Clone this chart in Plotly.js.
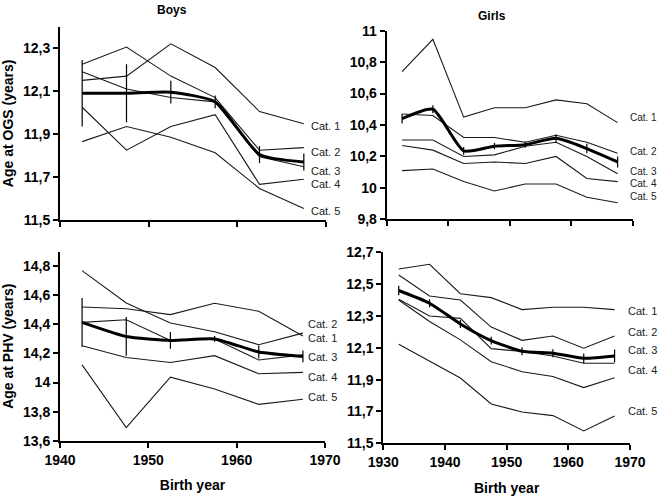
<!DOCTYPE html>
<html>
<head>
<meta charset="utf-8">
<script src="https://cdn.plot.ly/plotly-3.0.1.min.js"></script>
<style>
  html, body { margin: 0; padding: 0; background: #fff; }
  #plot { width: 661px; height: 500px; }
</style>
</head>
<body>
<div id="plot"></div>
<script>
// birth cohorts (mid-points)
const boysYears = [1942.5, 1947.5, 1952.5, 1957.5, 1962.5, 1967.5];
const girlsYears = [1932.5, 1937.5, 1942.5, 1947.5, 1952.5, 1957.5, 1962.5, 1967.5];
const catNames = ['Cat. 1', 'Cat. 2', 'Cat. 3', 'Cat. 4', 'Cat. 5'];

// Boys - age at OGS
const boysOgsCats = [
    [12.15, 12.17, 12.32, 12.21, 12.005, 11.948],
    [12.225, 12.305, 12.17, 12.07, 11.825, 11.837],
    [12.19, 12.11, 12.07, 12.05, 11.794, 11.748],
    [12.025, 11.825, 11.935, 11.99, 11.666, 11.69],
    [11.865, 11.935, 11.885, 11.813, 11.647, 11.554]
];
const boysOgsMean = [12.09, 12.09, 12.095, 12.05, 11.805, 11.77];
const boysOgsErr = [0.155, 0.135, 0.053, 0.03, 0.04, 0.04];

// Girls - age at OGS
const girlsOgsCats = [
    [10.74, 10.945, 10.45, 10.51, 10.51, 10.56, 10.535, 10.415],
    [10.47, 10.46, 10.32, 10.32, 10.29, 10.335, 10.29, 10.22],
    [10.305, 10.305, 10.2, 10.21, 10.265, 10.29, 10.2, 10.09],
    [10.27, 10.24, 10.155, 10.165, 10.155, 10.2, 10.06, 10.04],
    [10.11, 10.12, 10.04, 9.98, 10.025, 10.025, 9.94, 9.905]
];
const girlsOgsMean = [10.44, 10.5, 10.235, 10.265, 10.275, 10.315, 10.25, 10.165];
const girlsOgsErr = [0.03, 0.025, 0.025, 0.02, 0.02, 0.025, 0.03, 0.035];

// Boys - age at PHV
const boysPhvCats = [
    [14.52, 14.508, 14.467, 14.545, 14.49, 14.32],
    [14.77, 14.547, 14.41, 14.35, 14.26, 14.34],
    [14.414, 14.432, 14.29, 14.3, 14.155, 14.19],
    [14.253, 14.172, 14.138, 14.185, 14.06, 14.07],
    [14.122, 13.69, 14.037, 13.955, 13.85, 13.885]
];
const boysPhvMean = [14.414, 14.317, 14.29, 14.3, 14.21, 14.18];
const boysPhvErr = [0.167, 0.133, 0.057, 0.02, 0.045, 0.04];

// Girls - age at PHV
const girlsPhvCats = [
    [12.595, 12.625, 12.44, 12.415, 12.34, 12.355, 12.355, 12.34],
    [12.557, 12.425, 12.4, 12.23, 12.147, 12.174, 12.097, 12.174],
    [12.405, 12.3, 12.285, 12.095, 12.077, 12.049, 12.003, 12.003],
    [12.4, 12.265, 12.15, 12.013, 11.95, 11.92, 11.85, 11.912],
    [12.122, 12.017, 11.91, 11.747, 11.697, 11.674, 11.578, 11.672]
];
const girlsPhvMean = [12.46, 12.38, 12.25, 12.145, 12.078, 12.066, 12.034, 12.049];
const girlsPhvErr = [0.03, 0.025, 0.025, 0.025, 0.025, 0.025, 0.03, 0.04];

// tick labels
const boysXTicks = [1940, 1950, 1960, 1970];
const girlsXTicks = [1930, 1940, 1950, 1960, 1970];
const boysOgsTicks = [11.5, 11.7, 11.9, 12.1, 12.3];
const boysOgsLabels = ['11,5', '11,7', '11,9', '12,1', '12,3'];
const girlsOgsTicks = [9.8, 10, 10.2, 10.4, 10.6, 10.8, 11];
const girlsOgsLabels = ['9,8', '10', '10,2', '10,4', '10,6', '10,8', '11'];
const boysPhvTicks = [13.6, 13.8, 14, 14.2, 14.4, 14.6, 14.8];
const boysPhvLabels = ['13,6', '13,8', '14', '14,2', '14,4', '14,6', '14,8'];
const girlsPhvTicks = [11.5, 11.7, 11.9, 12.1, 12.3, 12.5, 12.7];
const girlsPhvLabels = ['11,5', '11,7', '11,9', '12,1', '12,3', '12,5', '12,7'];

const W = 661, H = 500;
const FONT = 'Liberation Sans, Arial, sans-serif';

// pixel -> paper helpers
function px(x) { return x / W; }
function py(y) { return 1 - y / H; }

// build the 5 thin lines + the thick mean line for one panel
function panelTraces(years, cats, mean, err, xa, ya) {
    const traces = cats.map(function(vals, i) {
        return {
            type: 'scatter', mode: 'lines', x: years, y: vals,
            name: catNames[i], xaxis: xa, yaxis: ya,
            line: { color: '#1a1a1a', width: 1.1 },
            showlegend: false, hoverinfo: 'x+y+name'
        };
    });
    traces.push({
        type: 'scatter', mode: 'lines', x: years, y: mean,
        name: 'Mean', xaxis: xa, yaxis: ya,
        line: { color: '#000', width: 3, shape: 'spline', smoothing: 0.55 },
        error_y: { type: 'data', array: err, visible: true, color: '#000', thickness: 1.2, width: 0 },
        showlegend: false
    });
    return traces;
}

const data = [].concat(
    panelTraces(boysYears, boysOgsCats, boysOgsMean, boysOgsErr, 'x', 'y'),
    panelTraces(girlsYears, girlsOgsCats, girlsOgsMean, girlsOgsErr, 'x2', 'y2'),
    panelTraces(boysYears, boysPhvCats, boysPhvMean, boysPhvErr, 'x3', 'y3'),
    panelTraces(girlsYears, girlsPhvCats, girlsPhvMean, girlsPhvErr, 'x4', 'y4')
);

const tickFont = { family: FONT, size: 14, color: '#000', weight: 'bold' };
const titleFont = { family: FONT, size: 14, color: '#000', weight: 'bold' };

function axisBase() {
    return {
        showgrid: false, zeroline: false, showline: true,
        linecolor: '#000', linewidth: 2,
        ticks: 'outside', ticklen: 5, tickwidth: 2, tickcolor: '#000',
        tickfont: tickFont, fixedrange: true
    };
}

function xAxis(domain, range, ticks, anchor, withLabels) {
    return Object.assign(axisBase(), {
        domain: domain, range: range, anchor: anchor,
        tickmode: 'array', tickvals: ticks, ticktext: ticks.map(String),
        showticklabels: withLabels,
        title: withLabels ? { text: 'Birth year', font: titleFont, standoff: 14 } : undefined
    });
}

function yAxis(domain, range, ticks, labels, anchor, title) {
    return Object.assign(axisBase(), {
        domain: domain, range: range, anchor: anchor,
        tickmode: 'array', tickvals: ticks, ticktext: labels,
        title: title ? { text: title, font: titleFont, standoff: 6 } : undefined
    });
}

// category labels to the right of each panel: [left px, font size, [y px for Cat.1..Cat.5]]
const labelSpots = [
    [310, 11, [126, 151.7, 171, 184.3, 211]],
    [629, 10, [117.7, 151.7, 171.7, 183.3, 196.7]],
    [306.7, 11, [337.7, 324, 357.3, 376.7, 397.3]],
    [626.5, 11, [311, 332.3, 350, 370, 410.7]]
];

const annotations = [];
labelSpots.forEach(function(spot) {
    spot[2].forEach(function(yy, i) {
        annotations.push({
            xref: 'paper', yref: 'paper', x: px(spot[0]), y: py(yy),
            xanchor: 'left', yanchor: 'middle', showarrow: false,
            text: catNames[i], borderpad: 0,
            font: { family: FONT, size: spot[1], color: '#222' }
        });
    });
});
annotations.push({
    xref: 'paper', yref: 'paper', x: px(172), y: py(10),
    xanchor: 'center', yanchor: 'middle', showarrow: false,
    text: 'Boys', font: { family: FONT, size: 12, color: '#000', weight: 'bold' }
});
annotations.push({
    xref: 'paper', yref: 'paper', x: px(492), y: py(16),
    xanchor: 'center', yanchor: 'middle', showarrow: false,
    text: 'Girls', font: { family: FONT, size: 12, color: '#000', weight: 'bold' }
});

const layout = {
    width: W, height: H,
    margin: { l: 0, r: 0, t: 0, b: 0 },
    paper_bgcolor: '#fff', plot_bgcolor: '#fff',
    showlegend: false,
    xaxis: xAxis([px(60), px(326)], [1940, 1970], boysXTicks, 'y', false),
    yaxis: yAxis([py(220), py(26.7)], [11.5, 12.4], boysOgsTicks, boysOgsLabels, 'x', 'Age at OGS (years)'),
    xaxis2: xAxis([px(386.7), px(633)], [1930, 1970], girlsXTicks, 'y2', false),
    yaxis2: yAxis([py(219.3), py(30.7)], [9.8, 11], girlsOgsTicks, girlsOgsLabels, 'x2', null),
    xaxis3: xAxis([px(60), px(325)], [1940, 1970], boysXTicks, 'y3', true),
    yaxis3: yAxis([py(440.7), py(251.7)], [13.6, 14.9], boysPhvTicks, boysPhvLabels, 'x3', 'Age at PHV (years)'),
    xaxis4: xAxis([px(383.3), px(630)], [1930, 1970], girlsXTicks, 'y4', true),
    yaxis4: yAxis([py(443.3), py(252.3)], [11.5, 12.7], girlsPhvTicks, girlsPhvLabels, 'x4', null),
    annotations: annotations
};

Plotly.newPlot('plot', data, layout, { displayModeBar: false, staticPlot: true });
</script>
</body>
</html>
